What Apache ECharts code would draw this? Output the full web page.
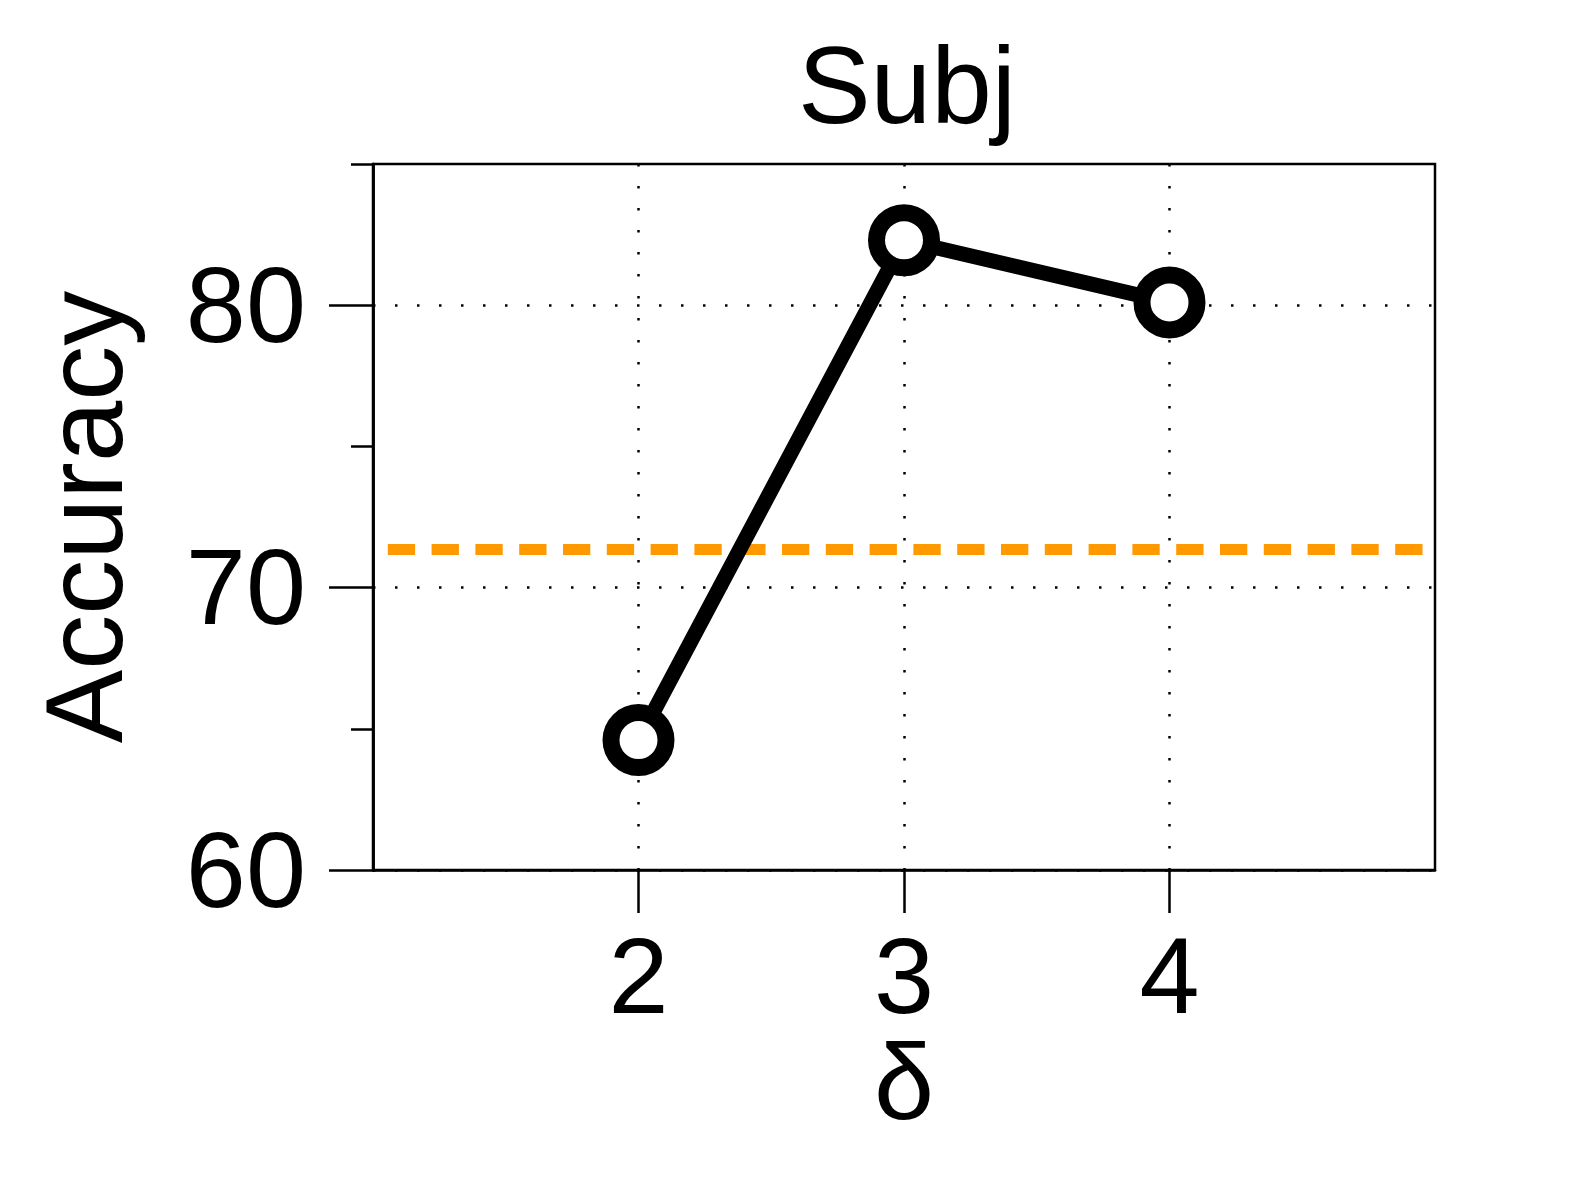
<!DOCTYPE html>
<html>
<head>
<meta charset="utf-8">
<script src="https://cdn.jsdelivr.net/npm/echarts@6/dist/echarts.min.js"></script>
<style>
html,body{margin:0;padding:0;background:#fff;}
#chart{width:1578px;height:1183px;}
</style>
</head>
<body>
<div id="chart"></div>
<script>
// ---- data ----
const title = 'Subj';
const xName = 'δ';
const yName = 'Accuracy';
const deltas = [2, 3, 4];
const accuracy = [64.6, 82.3, 80.1];
const baseline = 71.35;
const xTicks = [2, 3, 4];
const yMajorTicks = [60, 70, 80];
const yMinorTicks = [65, 75, 85];

const FONT = 'Liberation Sans';
const chart = echarts.init(document.getElementById('chart'), null, {renderer: 'canvas'});

const points = deltas.map((d, i) => [d, accuracy[i]]);

const yBase = {
  type: 'value', min: 60, max: 85, position: 'left',
  axisLine: {show: true, lineStyle: {color: '#000', width: 2.5}}
};

chart.setOption({
  animation: false,
  backgroundColor: '#fff',
  title: {
    text: title, left: 902, top: 33, textAlign: 'center',
    textStyle: {fontFamily: FONT, fontSize: 109, fontWeight: 'normal', color: '#000'}
  },
  grid: {
    left: 373, top: 164, right: 143, bottom: 313,
    show: true, borderColor: '#000', borderWidth: 2.5, backgroundColor: 'transparent'
  },
  xAxis: {
    type: 'value', min: 1, max: 5,
    name: xName, nameLocation: 'middle', nameGap: 165, nameMoveOverlap: false,
    nameTextStyle: {fontFamily: FONT, fontSize: 108, color: '#000'},
    axisLine: {show: true, lineStyle: {color: '#000', width: 2.5}},
    axisTick: {show: true, customValues: xTicks, length: 43, lineStyle: {color: '#000', width: 2.5}},
    axisLabel: {customValues: xTicks, margin: 59, fontFamily: FONT, fontSize: 108, color: '#000'},
    splitLine: {show: true, lineStyle: {color: '#000', width: 2.5, type: [2.5, 19.5]}}
  },
  yAxis: [
    Object.assign({}, yBase, {
      name: yName, nameLocation: 'middle', nameGap: 226, nameMoveOverlap: false,
      nameTextStyle: {fontFamily: FONT, fontSize: 110, color: '#000'},
      axisTick: {show: true, customValues: yMajorTicks, length: 44, lineStyle: {color: '#000', width: 2.5}},
      axisLabel: {customValues: yMajorTicks, margin: 67, verticalAlign: 'top', lineHeight: 14,
        fontFamily: FONT, fontSize: 108, color: '#000'},
      splitLine: {show: true, lineStyle: {color: '#000', width: 2.5, type: [2.5, 19.5]}}
    }),
    Object.assign({}, yBase, {
      axisTick: {show: true, customValues: yMinorTicks, length: 22, lineStyle: {color: '#000', width: 2.5}},
      axisLabel: {show: false},
      splitLine: {show: false}
    })
  ],
  series: [
    {
      type: 'line', data: [], yAxisIndex: 0, silent: true,
      markLine: {
        silent: true, symbol: ['none', 'none'], label: {show: false},
        lineStyle: {color: '#ff9900', width: 11, type: [27.3, 16.5], dashOffset: 29},
        data: [{yAxis: baseline}]
      }
    },
    {
      type: 'line', data: points, yAxisIndex: 0, z: 5,
      lineStyle: {color: '#000', width: 15},
      symbol: 'circle', symbolSize: 55, showAllSymbol: true,
      itemStyle: {color: '#fff', borderColor: '#000', borderWidth: 17}
    }
  ]
});
</script>
</body>
</html>
